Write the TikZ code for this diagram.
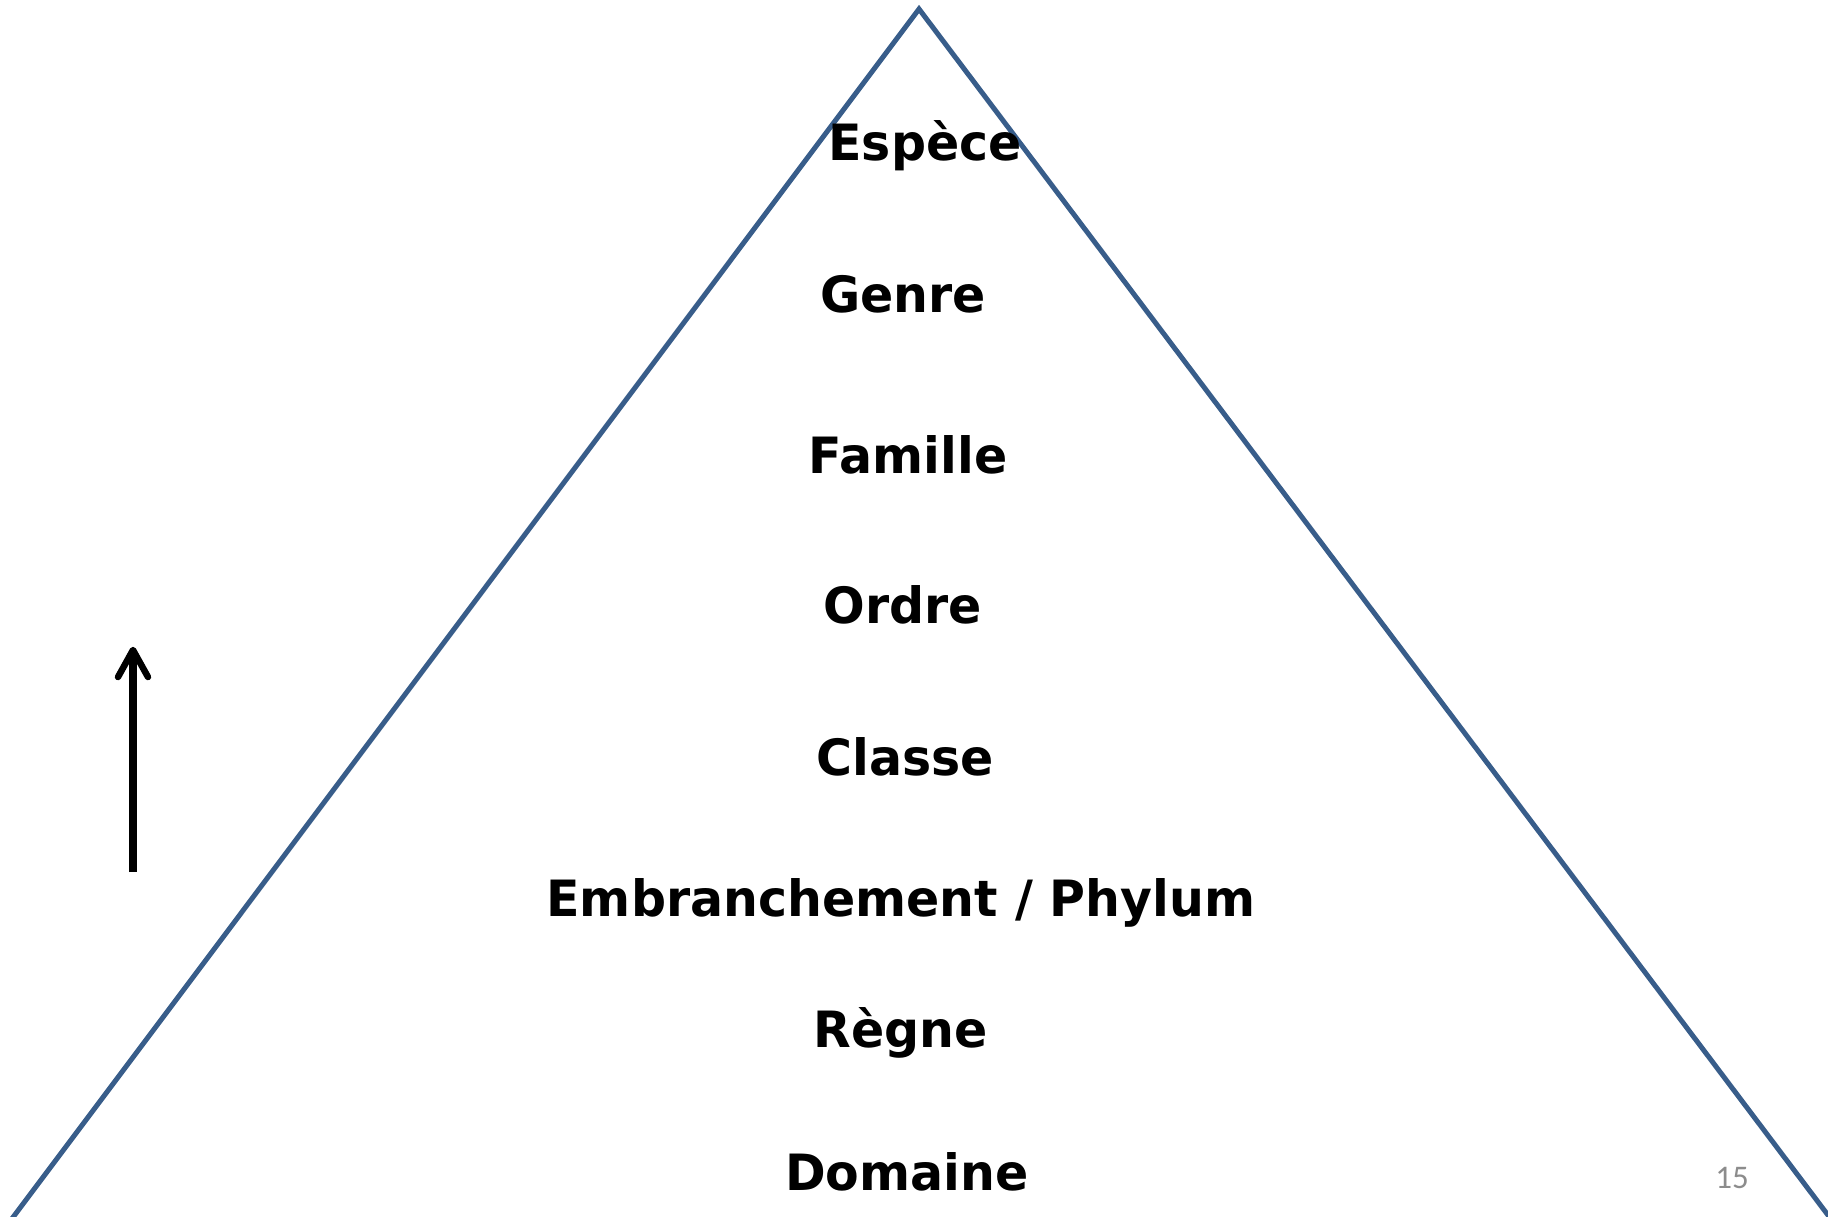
\documentclass[tikz,border=0pt]{standalone}
\usepackage{fontspec}
\setmainfont[FakeStretch=0.98]{DejaVu Sans}
\newfontfamily\pagefont{Carlito}
\definecolor{tri}{HTML}{385D8A}
\definecolor{pnum}{HTML}{8C8C8C}
\begin{document}
\begin{tikzpicture}[x=1pt,y=-1pt,
  rank/.style={font=\fontsize{50}{56}\selectfont\bfseries, inner sep=0pt, anchor=base},
  edge/.style={draw=tri, line width=5pt, line join=miter}]
\useasboundingbox (0,0) rectangle (1828,1216);
\begin{scope}
\clip (0,0) rectangle (1828,1216);
\coordinate (apex) at (919,9);
\coordinate (bl) at (-61,1316);
\coordinate (br) at (1904,1316);
\draw[edge] (bl) -- (apex) -- (br);
\end{scope}
\node[rank] (espece) at (925,160) {Espèce};
\node[rank] (genre) at (903,312) {Genre};
\node[rank] (famille) at (908,473) {Famille};
\node[rank] (ordre) at (903,623) {Ordre};
\node[rank] (classe) at (905,775) {Classe};
\node[rank] (embr) at (901,916) {Embranchement / Phylum};
\node[rank] (regne) at (901,1047) {Règne};
\node[rank] (domaine) at (907,1190) {Domaine};
\node[font=\pagefont\fontsize{33}{36}\selectfont, text=pnum, inner sep=0pt] (page) at (1732,1178) {15};
\coordinate (abot) at (133,872);
\coordinate (atop) at (133,650);
\coordinate (hl) at (118,677);
\coordinate (hr) at (148,677);
\draw[line width=8pt] (abot) -- (133,656);
\draw[line width=6.5pt, line cap=round, line join=round] (hl) -- (atop) -- (hr);
\end{tikzpicture}
\end{document}
